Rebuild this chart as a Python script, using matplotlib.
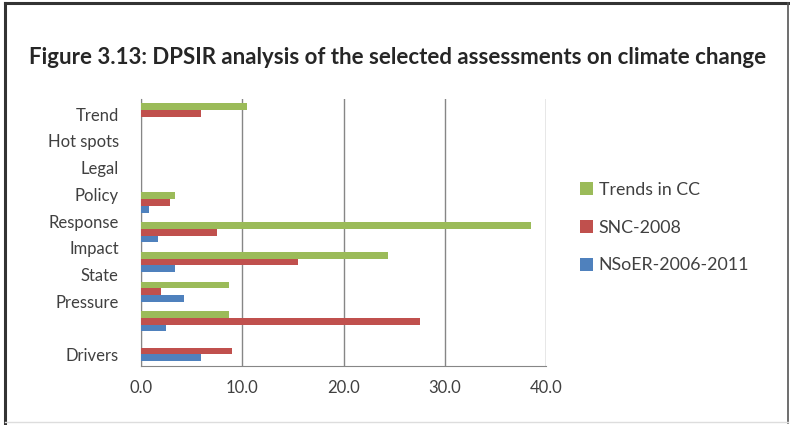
import numpy as np
import matplotlib
matplotlib.use('Agg')
import matplotlib.pyplot as plt
from matplotlib.lines import Line2D

# labels on the category axis (the chart has one blank label)
labels = ['Drivers', '', 'Pressure', 'State', 'Impact', 'Response',
          'Policy', 'Legal', 'Hot spots', 'Trend']

# bar groups, bottom to top (9 groups drawn in the original)
trends_cc = [0.0, 8.7, 8.7, 24.4, 38.5, 3.4, 0.0, 0.0, 10.45]
snc_2008 = [9.0, 27.6, 2.0, 15.5, 7.5, 2.9, 0.0, 0.0, 5.95]
nsoer = [5.9, 2.5, 4.2, 3.35, 1.65, 0.8, 0.0, 0.0, 0.0]

series_names = ['Trends in CC', 'SNC-2008', 'NSoER-2006-2011']
colors = ['#9BBB59', '#C0504D', '#4F81BD']
xticks = [0, 10, 20, 30, 40]

plt.rcParams['font.family'] = ['Lato', 'DejaVu Sans']
txt = '#404040'

fig = plt.figure(figsize=(7.9, 4.25), dpi=100)
ax = fig.add_axes([141/790, 1-366/425, (546-141)/790, (366-98.5)/425])

y = np.arange(len(trends_cc))
h = 0.225
b1 = ax.barh(y + h, trends_cc, height=h, color=colors[0], zorder=3)
b2 = ax.barh(y, snc_2008, height=h, color=colors[1], zorder=3)
b3 = ax.barh(y - h, nsoer, height=h, color=colors[2], zorder=3)

ax.set_xlim(0, 40)
ax.set_ylim(-0.5, len(y) - 0.5)
ax.set_xticks(xticks)
ax.set_xticklabels([f'{v:.1f}' for v in xticks])
ax.set_yticks([])
ax.grid(axis='x', color='#868686', linewidth=1.0, zorder=0)
for s in ['top', 'right']:
    ax.spines[s].set_visible(False)
for s in ['left', 'bottom']:
    ax.spines[s].set_color('#868686')
ax.tick_params(axis='x', length=0, pad=10, labelsize=12, labelcolor=txt)

# second axis only for the category labels
ax2 = ax.twinx()
ax2.set_ylim(-0.42, len(labels) - 0.42)
ax2.set_yticks(np.arange(len(labels)))
ax2.set_yticklabels(labels)
ax2.yaxis.tick_left()
ax2.tick_params(axis='y', length=0, pad=16, labelsize=12, labelcolor=txt)
for s in ax2.spines.values():
    s.set_visible(False)

fig.legend([b1, b2, b3], series_names, loc='upper left',
           bbox_to_anchor=(564/790, 1-166/425), frameon=False,
           fontsize=12.8, labelcolor=txt, handlelength=0.75, handleheight=0.75,
           handletextpad=0.3, labelspacing=1.22)

fig.text(398/790, 1-57/425,
         'Figure 3.13: DPSIR analysis of the selected assessments on climate change',
         ha='center', va='center', fontsize=16, weight='bold', color='#262626')

# outer frame
fig.add_artist(Line2D([5/790, 5/790], [0.005, 1-2.5/425], transform=fig.transFigure,
                      color='#333333', linewidth=2.2))
fig.add_artist(Line2D([5/790, 787.5/790], [1-2.5/425, 1-2.5/425], transform=fig.transFigure,
                      color='#333333', linewidth=2.2))
fig.add_artist(Line2D([787.5/790, 787.5/790], [0.005, 1-2.5/425], transform=fig.transFigure,
                      color='#555555', linewidth=1.2))
fig.add_artist(Line2D([5/790, 787.5/790], [1-421.5/425, 1-421.5/425], transform=fig.transFigure,
                      color='#dddddd', linewidth=1.0))

fig.savefig('out.png', dpi=100)
